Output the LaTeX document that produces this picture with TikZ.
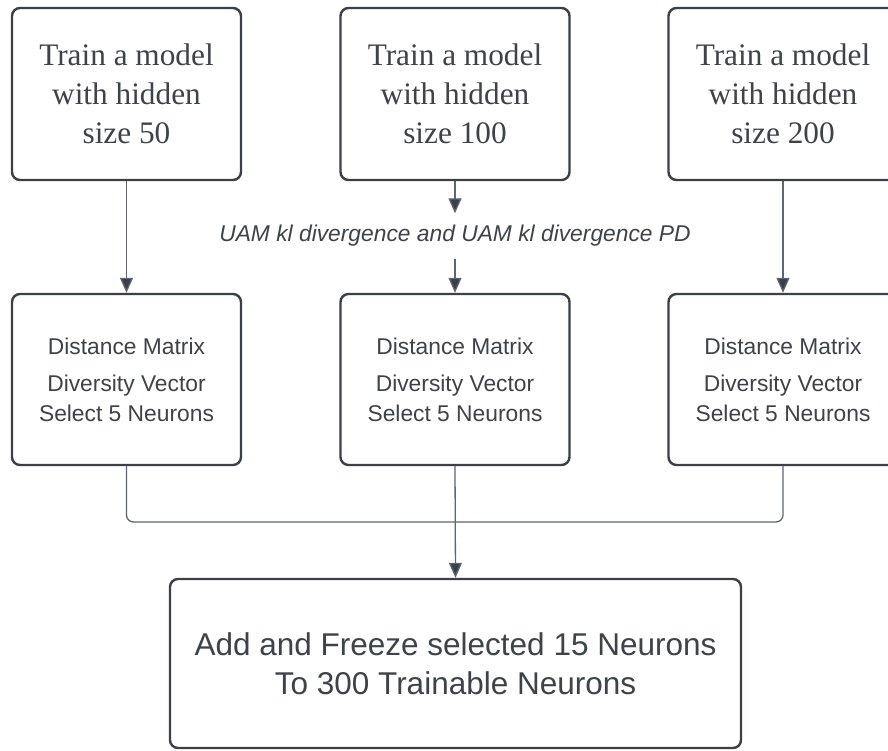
\documentclass[tikz,border=0pt]{standalone}
\usepackage{fontspec}
\setmainfont{Liberation Serif}
\newfontfamily\arialf{Liberation Sans}
\usetikzlibrary{arrows.meta}
\definecolor{boxc}{HTML}{3A4049}
\definecolor{txtc}{HTML}{3D434C}
\definecolor{linec}{HTML}{5E6672}
\tikzset{
  topbox/.style={draw=boxc, line width=2.4pt, rounded corners=8pt, minimum width=229pt, minimum height=172pt, align=center, text=txtc, font=\fontsize{31.3}{39}\selectfont},
  midbox/.style={draw=boxc, line width=2.4pt, rounded corners=8pt, minimum width=229pt, minimum height=171pt, align=center, text=txtc, font=\arialf\fontsize{22.8}{30}\selectfont},
  botbox/.style={draw=boxc, line width=2.4pt, rounded corners=8pt, minimum width=571pt, minimum height=169pt, align=center, text=txtc, font=\arialf\fontsize{31.5}{39}\selectfont},
  conn/.style={draw=linec, line width=1.3pt},
  arrowc/.style={conn, -{Triangle[length=15pt, width=13pt, fill=boxc]}},
  lbl/.style={text=txtc, font=\arialf\itshape\fontsize{22.8}{24}\selectfont, minimum height=45pt, inner sep=0pt}
}
\begin{document}
\begin{tikzpicture}[x=1pt, y=-1pt]
\useasboundingbox (0,0) rectangle (888,750);
\fill[white] (0,0) rectangle (888,750);
\clip (0,0) rectangle (888,750);
% top row
\node[topbox] (t1) at (126.5,94) {\raisebox{4.5pt}{\parbox{220pt}{\centering Train a model\\with hidden\\size 50}}};
\node[topbox] (t2) at (455,94) {\raisebox{4.5pt}{\parbox{220pt}{\centering Train a model\\with hidden\\size 100}}};
\node[topbox] (t3) at (783,94) {\raisebox{4.5pt}{\parbox{220pt}{\centering Train a model\\with hidden\\size 200}}};
% middle row
\node[midbox] (d1) at (126.5,379.5) {Distance Matrix\\[7pt]Diversity Vector\\Select 5 Neurons};
\node[midbox] (d2) at (455,379.5) {Distance Matrix\\[7pt]Diversity Vector\\Select 5 Neurons};
\node[midbox] (d3) at (783,379.5) {Distance Matrix\\[7pt]Diversity Vector\\Select 5 Neurons};
% bottom
\node[botbox] (b) at (455.5,663.5) {\raisebox{4.5pt}{\parbox{560pt}{\centering Add and Freeze selected 15 Neurons\\To 300 Trainable Neurons}}};
% label
\node[lbl] (l) at (455,236) {UAM kl divergence and UAM kl divergence PD};
% connectors
\draw[arrowc] (t1.south) -- (d1.north);
\draw[arrowc] (t3.south) -- (d3.north);
\draw[arrowc] (t2.south) -- (l.north);
\draw[arrowc] (l.south) -- (d2.north);
\coordinate (j) at (455,522);
\draw[conn, rounded corners=7pt] (d1.south) |- (j);
\draw[conn, rounded corners=7pt] (d3.south) |- (j);
\draw[arrowc] (d2.south) -- (b.north);
\end{tikzpicture}
\end{document}
